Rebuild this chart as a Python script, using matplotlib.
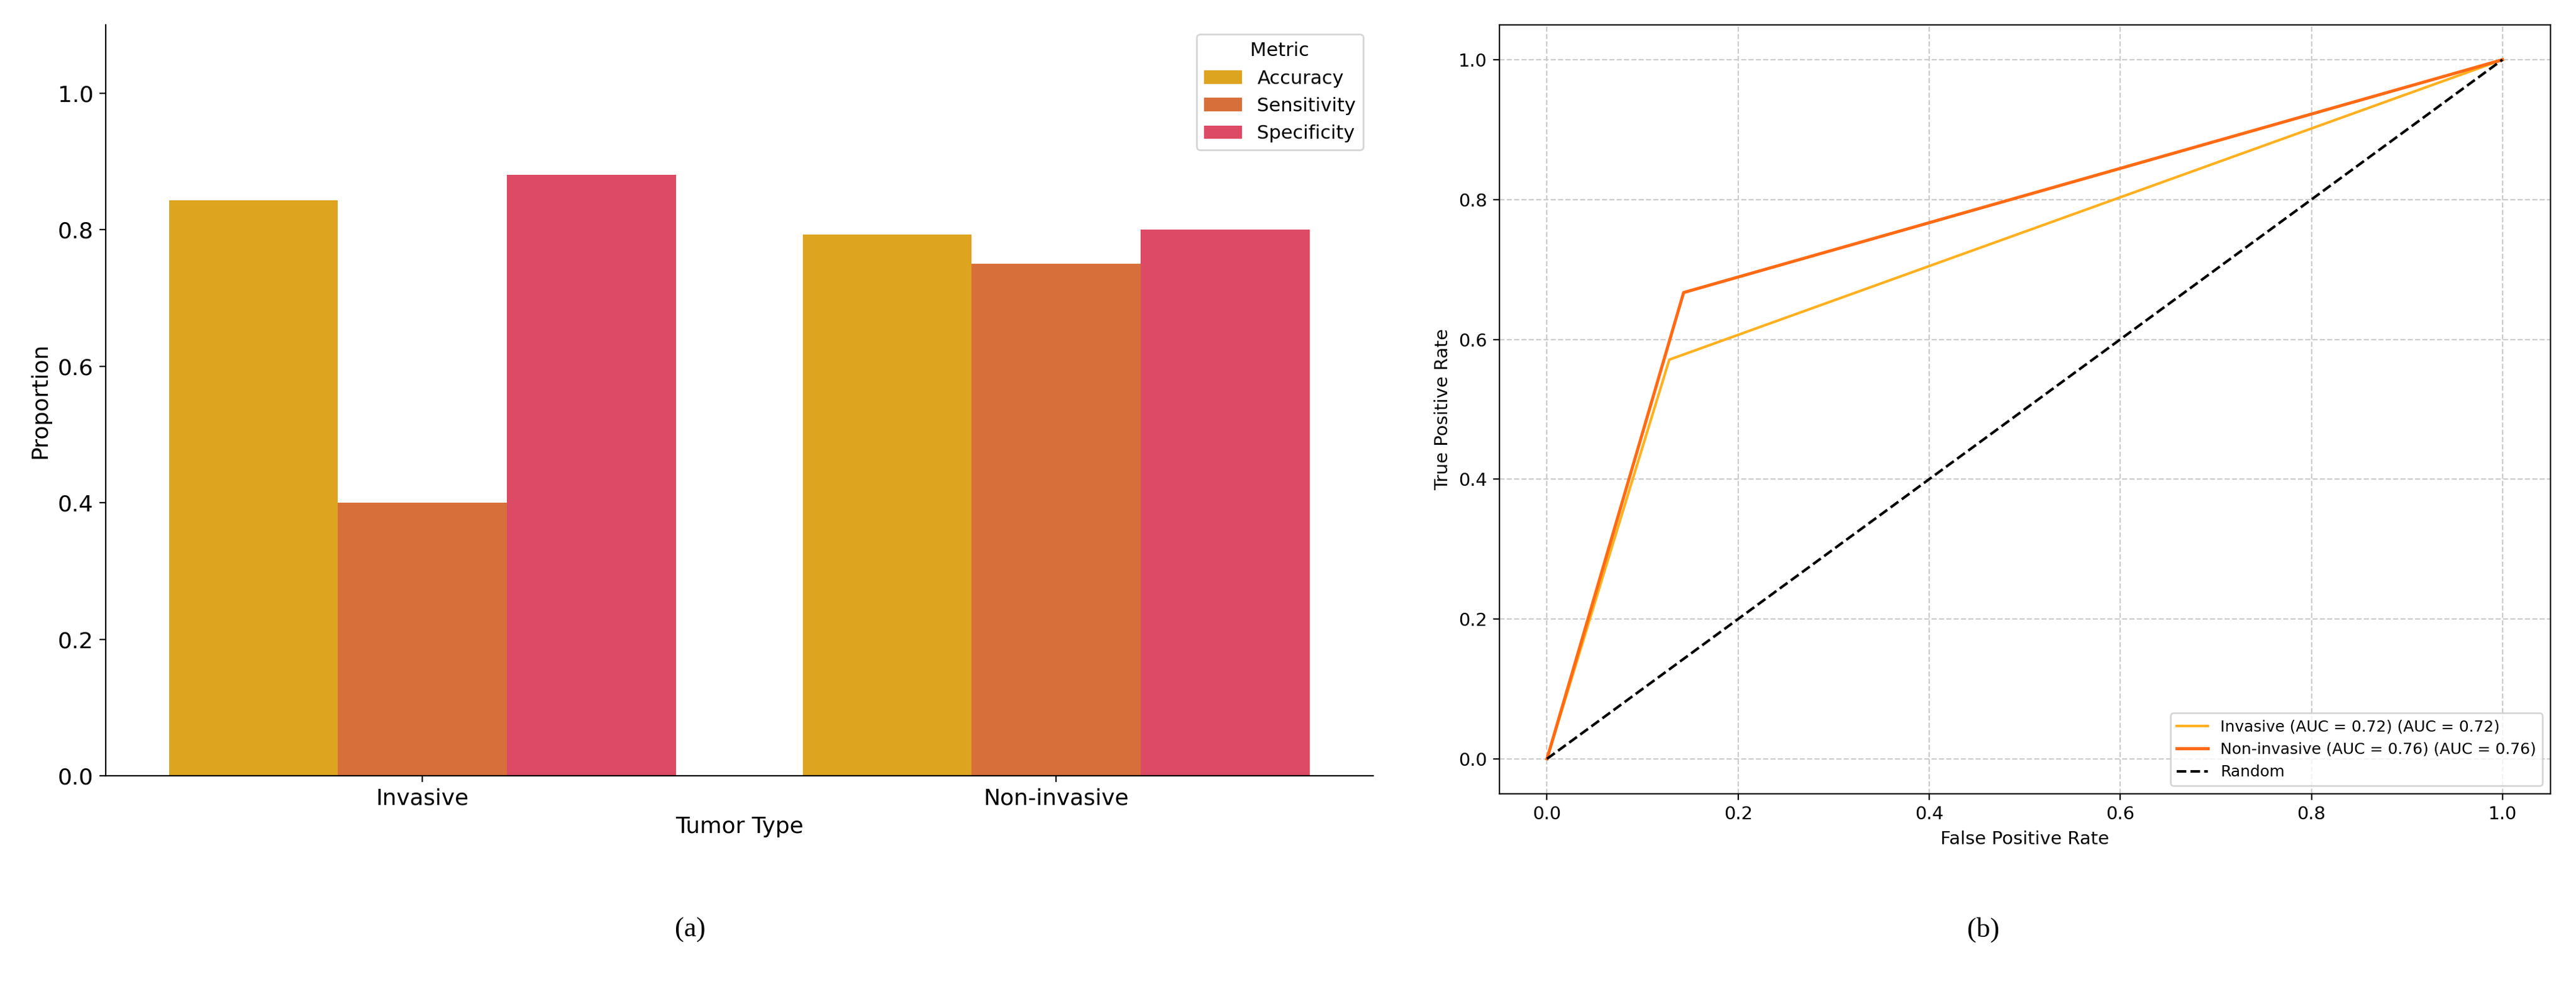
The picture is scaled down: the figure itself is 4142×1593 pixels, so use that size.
import matplotlib
matplotlib.use("Agg")
import matplotlib.pyplot as plt
import numpy as np

categories = ["Invasive", "Non-invasive"]
metrics = ["Accuracy", "Sensitivity", "Specificity"]
accuracy = [0.843, 0.793]
sensitivity = [0.40, 0.75]
specificity = [0.88, 0.80]
bar_colors = ["#DDA41F", "#D76F3B", "#DD4A65"]

fpr_inv = [0.0, 0.128, 1.0]
tpr_inv = [0.0, 0.571, 1.0]
fpr_non = [0.0, 0.143, 1.0]
tpr_non = [0.0, 0.667, 1.0]

plt.rcParams["font.family"] = "DejaVu Sans"
fig = plt.figure(figsize=(20.71, 7.965), dpi=200)

ax1 = fig.add_axes([0.041, 0.217, 0.492, 0.758])
x = np.arange(len(categories))
w = 0.8 / 3
for i, (vals, name) in enumerate(zip([accuracy, sensitivity, specificity], metrics)):
    ax1.bar(x + (i - 1) * w, vals, w, color=bar_colors[i], label=name)
ax1.set_xticks(x)
ax1.set_xticklabels(categories)
ax1.set_ylim(0, 1.1)
ax1.set_xlim(-0.5, 1.5)
ax1.set_yticks([0, 0.2, 0.4, 0.6, 0.8, 1.0])
ax1.set_xlabel("Tumor Type", fontsize=13)
ax1.set_ylabel("Proportion", fontsize=13)
ax1.tick_params(labelsize=13)
ax1.spines["top"].set_visible(False)
ax1.spines["right"].set_visible(False)
ax1.legend(title="Metric", loc="upper right", fontsize=11, title_fontsize=11)

ax2 = fig.add_axes([0.582, 0.199, 0.408, 0.776])
ax2.plot(fpr_inv, tpr_inv, color="#FFB01F", lw=1.5, label="Invasive (AUC = 0.72) (AUC = 0.72)")
ax2.plot(fpr_non, tpr_non, color="#FF6A13", lw=1.8, label="Non-invasive (AUC = 0.76) (AUC = 0.76)")
ax2.plot([0, 1], [0, 1], "k--", lw=1.5, label="Random")
ax2.set_xlim(-0.05, 1.05)
ax2.set_ylim(-0.05, 1.05)
ax2.grid(True, linestyle="--", color="#cccccc", lw=0.8)
ax2.set_xlabel("False Positive Rate", fontsize=10.5)
ax2.set_ylabel("True Positive Rate", fontsize=10.5)
ax2.tick_params(labelsize=10.5)
ax2.legend(loc="lower right", fontsize=9)

fig.text(0.268, 0.055, "(a)", ha="center", fontsize=16, family="Liberation Serif")
fig.text(0.770, 0.055, "(b)", ha="center", fontsize=16, family="Liberation Serif")
fig.savefig("out.png", dpi=200)
